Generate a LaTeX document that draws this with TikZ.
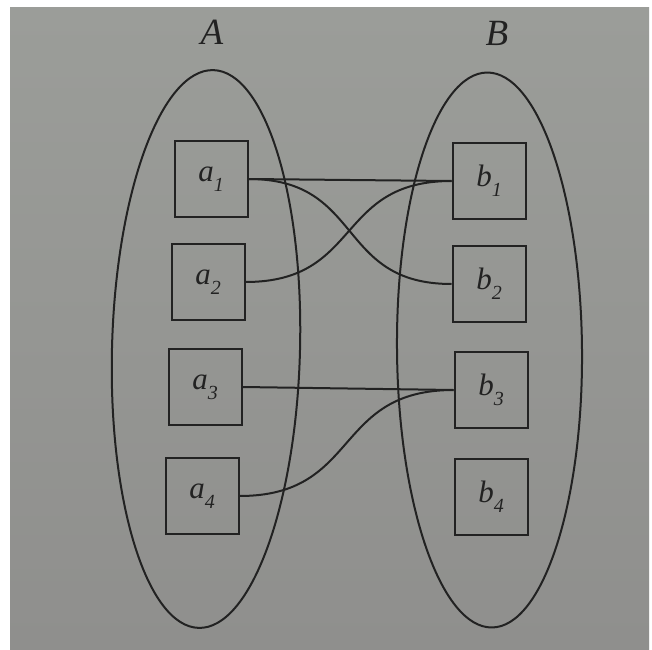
\documentclass[tikz,border=0pt]{standalone}
\usepackage{fontspec}
\setmainfont{Liberation Serif}
\usetikzlibrary{shapes.geometric}
\definecolor{paper}{HTML}{9B9D99}
\definecolor{paperlow}{HTML}{8F8F8D}
\definecolor{ink}{HTML}{222222}
\newcommand\elemlabel[2]{\textit{#1}\raisebox{-0.32em}{\fontsize{20}{20}\selectfont\textit{#2}}}
\tikzset{
  set/.style={draw=ink, line width=2pt, ellipse, minimum width=188pt, minimum height=558pt, inner sep=0pt},
  elem/.style={draw=ink, line width=2pt, rectangle, minimum width=73pt, minimum height=76pt, inner sep=0pt,
               font=\fontsize{31}{31}\selectfont, text=ink},
  setname/.style={font=\fontsize{37}{37}\selectfont\itshape, text=ink},
  link/.style={draw=ink, line width=2pt}
}
\begin{document}
\begin{tikzpicture}[x=1pt, y=1pt]
  \useasboundingbox (0,0) rectangle (652,649);
  \fill[white] (0,0) rectangle (652,649);
  \shade[top color=paper, bottom color=paperlow] (10,0) rectangle (649,641);

  % set names
  \node[setname] (nameA) at (212,617) {A};
  \node[setname] (nameB) at (497,616) {B};

  % the two sets
  \node[set, rotate=-1.5] (setA) at (206,300) {};
  \node[set, rotate=0.5, minimum width=185pt, minimum height=555pt] (setB) at (489.5,299) {};

  % elements of A
  \node[elem] (a1) at (211,470) {\elemlabel{a}{1}};
  \node[elem] (a2) at (208,367) {\elemlabel{a}{2}};
  \node[elem] (a3) at (205,262) {\elemlabel{a}{3}};
  \node[elem] (a4) at (202,153) {\elemlabel{a}{4}};

  % elements of B
  \node[elem] (b1) at (489,468) {\elemlabel{b}{1}};
  \node[elem] (b2) at (489,365) {\elemlabel{b}{2}};
  \node[elem] (b3) at (491,259) {\elemlabel{b}{3}};
  \node[elem] (b4) at (491,152) {\elemlabel{b}{4}};

  % the relation
  \path[link] (a1.east) -- (b1.west);
  \path[link] (a1.east) to[out=0, in=180, looseness=1.3] (b2.west);
  \path[link] (a2.east) to[out=0, in=180, looseness=1.3] (b1.west);
  \path[link] (a3.east) -- (b3.west);
  \path[link] (a4.east) to[out=0, in=180, looseness=1.3] (b3.west);
\end{tikzpicture}
\end{document}
